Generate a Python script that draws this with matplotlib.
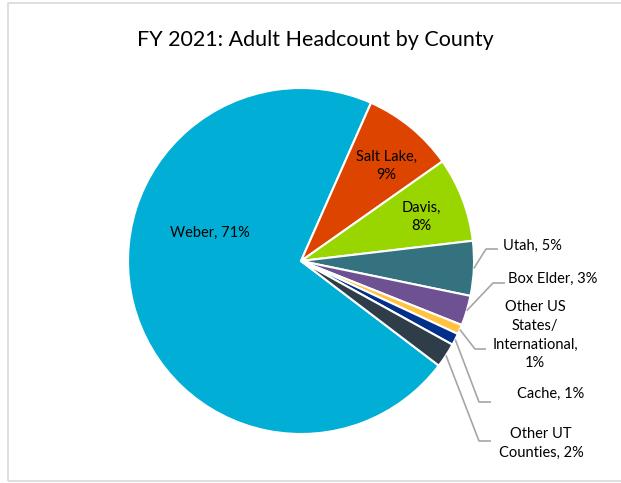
import matplotlib
matplotlib.use("Agg")
import matplotlib.pyplot as plt
import numpy as np
from matplotlib.patches import Rectangle

plt.rcParams['font.family'] = ['Lato', 'DejaVu Sans']

counties = ["Weber", "Salt Lake", "Davis", "Utah", "Box Elder",
            "Other US States/ International", "Cache", "Other UT Counties"]
shares = [71.3, 8.6, 7.9, 5.1, 2.8, 0.9, 1.1, 2.3]
shown_pct = [71, 9, 8, 5, 3, 1, 1, 2]
colors = ["#00AED6", "#DD4400", "#99D600", "#33727E", "#6E5193",
          "#FFC340", "#00308A", "#2F3D48"]

W, H = 621, 483
fig = plt.figure(figsize=(W / 100, H / 100), dpi=100)
fig.patches.append(Rectangle((8 / W, 2 / H), 620 / W, 478 / H, transform=fig.transFigure,
                             fill=False, edgecolor="#D9D9D9", linewidth=1.2))

cx, cy, r = 301, 261, 173
ax = fig.add_axes([(cx - r) / W, (H - cy - r) / H, 2 * r / W, 2 * r / H])
wedges, _ = ax.pie(shares, colors=colors, startangle=-37.2, counterclock=False,
                   wedgeprops=dict(edgecolor="white", linewidth=1.5))
ax.set_xlim(-1, 1)
ax.set_ylim(-1, 1)
ax.set_aspect("equal")
ax.axis("off")


def px(x, y):
    # pixel position in the picture -> data coords of the pie
    return (x - cx) / r, (cy - y) / r


fs = 10.5
# labels inside the pie
inside = {0: (210, 233, "Weber, 71%"),
          1: (386, 166, "Salt Lake,\n9%"),
          2: (421, 217, "Davis,\n8%")}
for i, (x, y, txt) in inside.items():
    ax.text(*px(x, y), txt, ha="center", va="center", fontsize=fs,
            color="#000000", linespacing=1.35)

# outside labels with elbow leader lines
outside = {
    3: ((486, 249), (498, 249), (503, 246), "left", f"{counties[3]}, {shown_pct[3]}%"),
    4: ((493, 283), (505, 283), (553, 279), "center", f"{counties[4]}, {shown_pct[4]}%"),
    5: ((475, 349), (486, 349), (535, 335), "center", "Other US\nStates/\nInternational,\n1%"),
    6: ((479, 402), (491, 402), (551, 394), "center", f"{counties[6]}, {shown_pct[6]}%"),
    7: ((479, 441), (491, 441), (541, 443), "center", "Other UT\nCounties, 2%"),
}
for i, (elbow, end, tpos, ha, txt) in outside.items():
    w = wedges[i]
    mid = np.deg2rad((w.theta1 + w.theta2) / 2)
    x0, y0 = np.cos(mid), np.sin(mid)
    ex, ey = px(*elbow)
    fx, fy = px(*end)
    ax.plot([x0, ex, fx], [y0, ey, fy], color="#A6A6A6", linewidth=1.2,
            clip_on=False, solid_capstyle="butt")
    ax.text(*px(*tpos), txt, ha=ha, va="center", fontsize=fs, color="#000000",
            linespacing=1.45, multialignment="center")

fig.text(315 / W, 1 - 40 / H, "FY 2021: Adult Headcount by County",
         ha="center", va="center", fontsize=15.5, color="#000000")

fig.savefig("out.png", dpi=100)
